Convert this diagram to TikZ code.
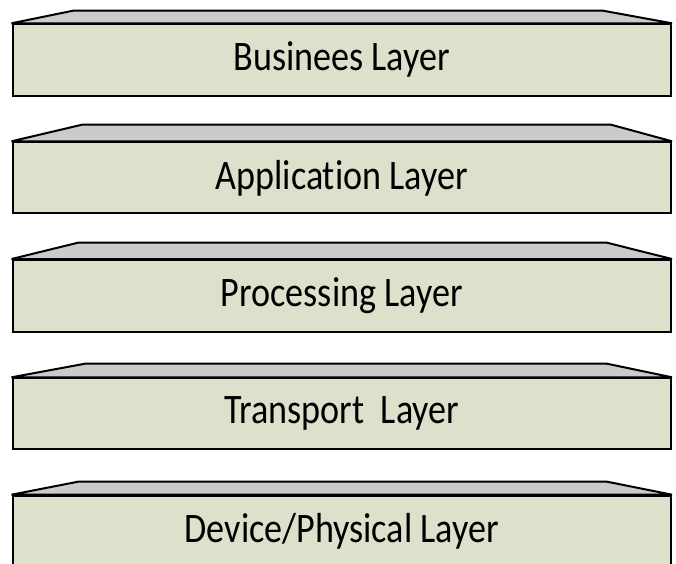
\documentclass[tikz,border=0pt]{standalone}
\usepackage{fontspec}
\setmainfont[Ligatures={NoCommon,NoRare}]{Carlito}
\definecolor{facefill}{HTML}{DDE1CC}
\definecolor{bevelfill}{HTML}{CBCBCB}
\tikzset{
  face/.style={draw=black, line width=2pt, fill=facefill, rectangle,
    minimum width=658.5pt, inner sep=0pt,
    font=\fontsize{42}{50}\selectfont},
  bevel/.style={draw=black, line width=2pt, fill=bevelfill, line join=bevel},
}
\newcommand{\lyrtext}[1]{\scalebox{0.86}[1]{#1}}
\begin{document}
\begin{tikzpicture}[x=1pt, y=-1pt]
\useasboundingbox (0,0) rectangle (676,563);
% slab 1
\coordinate (b1l) at (73,10.7);
\coordinate (b1r) at (603,10.7);
\node[face, minimum height=71.2pt] (f1) at (341.75,59.9) {\lyrtext{Businees Layer}};
\draw[bevel] (f1.north west) -- (b1l) -- (b1r) -- (f1.north east) -- cycle;
% slab 2
\coordinate (b2l) at (82,124.7);
\coordinate (b2r) at (611,124.7);
\node[face, minimum height=71pt] (f2) at (341.75,177.8) {\lyrtext{Application Layer}};
\draw[bevel] (f2.north west) -- (b2l) -- (b2r) -- (f2.north east) -- cycle;
% slab 3
\coordinate (b3l) at (78,242.7);
\coordinate (b3r) at (607,242.7);
\node[face, minimum height=71.5pt] (f3) at (341.75,295.75) {\lyrtext{Processing Layer}};
\draw[bevel] (f3.north west) -- (b3l) -- (b3r) -- (f3.north east) -- cycle;
% slab 4
\coordinate (b4l) at (85,363.7);
\coordinate (b4r) at (607,363.7);
\node[face, minimum height=70.7pt] (f4) at (341.75,413.65) {\lyrtext{Transport~~Layer}};
\draw[bevel] (f4.north west) -- (b4l) -- (b4r) -- (f4.north east) -- cycle;
% slab 5
\coordinate (b5l) at (78,481.7);
\coordinate (b5r) at (607,481.7);
\node[face, minimum height=71.3pt] (f5) at (341.75,531.35) {\lyrtext{Device/Physical Layer}};
\draw[bevel] (f5.north west) -- (b5l) -- (b5r) -- (f5.north east) -- cycle;
\end{tikzpicture}
\end{document}
